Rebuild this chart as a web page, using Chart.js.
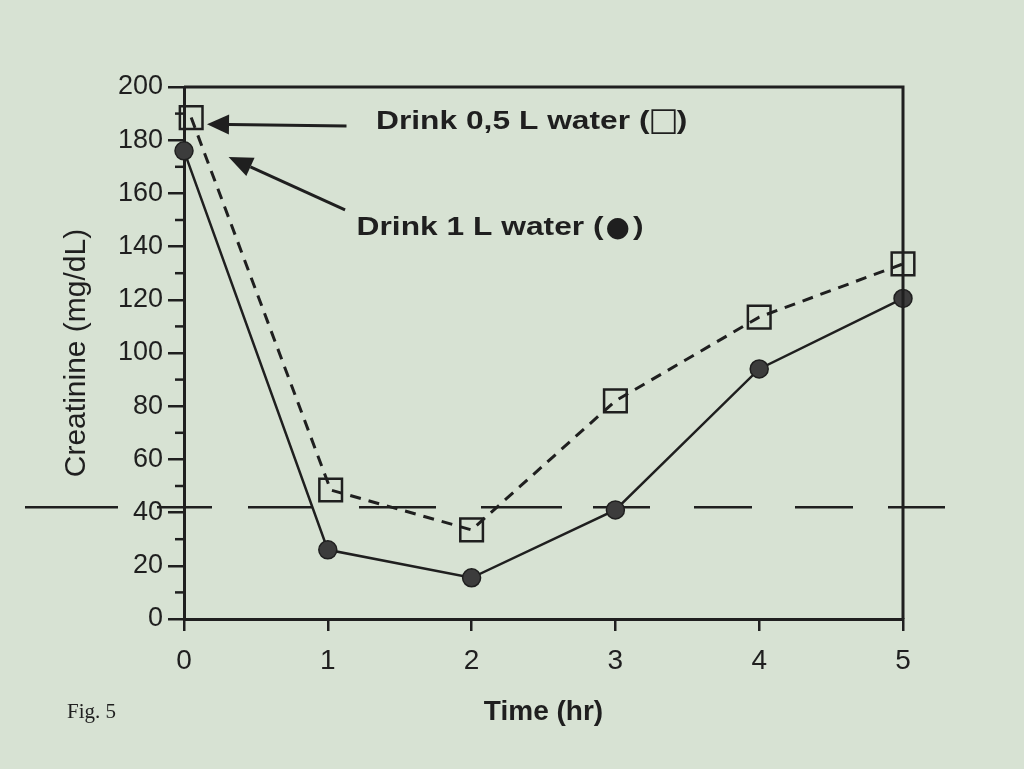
<!DOCTYPE html>
<html>
<head>
<meta charset="utf-8">
<script src="https://cdn.jsdelivr.net/npm/chart.js@4.4.0/dist/chart.umd.min.js"></script>
<style>
  html, body { margin: 0; padding: 0; background: #d7e2d3; }
  #wrap { width: 1024px; height: 769px; position: relative; }
</style>
</head>
<body>
<div id="wrap"><canvas id="creatChart" width="1024" height="769"></canvas></div>
<script>
// values
const timeTicks = [0, 1, 2, 3, 4, 5];
const oneLiterTime = [0, 1, 2, 3, 4, 5];
const oneLiterValues = [176, 26, 15.5, 41, 94, 120.5];
const halfLiterTime = [0.05, 1.02, 2, 3, 4, 5];
const halfLiterValues = [188.5, 48.5, 33.5, 82, 113.5, 133.5];
const yMajorTicks = [0, 20, 40, 60, 80, 100, 120, 140, 160, 180, 200];
const yMinorTicks = [10, 30, 50, 70, 90, 110, 130, 150, 170, 190];
const refLevel = 42;

// annotation pieces: text, marker glyph, closing bracket
const labelHalf = ['Drink 0,5 L water (', '\u25A1', ')'];
const labelOne = ['Drink 1 L water (', '\u25CF', ')'];

const ink = '#1f1f1f';
const paper = '#d7e2d3';

function toPoints(xs, ys) {
    return xs.map((x, i) => ({ x: x, y: ys[i] }));
}

function drawArrow(ctx, x1, y1, x2, y2, headLen, headW) {
    const ang = Math.atan2(y2 - y1, x2 - x1);
    const bx = x2 - Math.cos(ang) * headLen;
    const by = y2 - Math.sin(ang) * headLen;
    ctx.beginPath();
    ctx.moveTo(x1, y1);
    ctx.lineTo(bx, by);
    ctx.stroke();
    ctx.beginPath();
    ctx.moveTo(x2, y2);
    ctx.lineTo(bx + Math.sin(ang) * headW / 2, by - Math.cos(ang) * headW / 2);
    ctx.lineTo(bx - Math.sin(ang) * headW / 2, by + Math.cos(ang) * headW / 2);
    ctx.closePath();
    ctx.fill();
}

// wide bold label; the marker glyph is set unstretched in a face that has it
function drawNote(ctx, parts, x, y, glyphSize, gapIn, gapOut) {
    const stretch = 1.27;
    const mainFont = 'bold 25px "Liberation Sans", Arial, sans-serif';
    const glyphFont = glyphSize + 'px "DejaVu Sans", sans-serif';
    ctx.font = mainFont;
    const w0 = ctx.measureText(parts[0]).width * stretch;
    ctx.save();
    ctx.translate(x, y);
    ctx.scale(stretch, 1);
    ctx.fillText(parts[0], 0, 0);
    ctx.restore();
    ctx.font = glyphFont;
    const gx = x + w0 + gapIn;
    ctx.fillText(parts[1], gx, y + 1);
    const gw = ctx.measureText(parts[1]).width;
    ctx.font = mainFont;
    ctx.save();
    ctx.translate(gx + gw + gapOut, y);
    ctx.scale(stretch, 1);
    ctx.fillText(parts[2], 0, 0);
    ctx.restore();
}

const figurePlugin = {
    id: 'figureExtras',
    beforeDraw(chart) {
        const ctx = chart.ctx;
        ctx.save();
        ctx.fillStyle = paper;
        ctx.fillRect(0, 0, chart.width, chart.height);
        ctx.restore();
    },
    beforeDatasetsDraw(chart) {
        // long dashed reference line, runs past the frame on both sides
        const ctx = chart.ctx;
        const y = chart.scales.y.getPixelForValue(refLevel);
        ctx.save();
        ctx.strokeStyle = ink;
        ctx.lineWidth = 2.5;
        ctx.setLineDash([93, 39, 55, 36, 64, 47, 77, 45, 81, 31, 57, 44, 58, 43, 58, 35, 57, 60]);
        ctx.beginPath();
        ctx.moveTo(25, y);
        ctx.lineTo(945, y);
        ctx.stroke();
        ctx.restore();
    },
    afterDraw(chart) {
        const ctx = chart.ctx;
        const xs = chart.scales.x;
        const ys = chart.scales.y;
        const area = chart.chartArea;
        ctx.save();
        ctx.strokeStyle = ink;
        ctx.fillStyle = ink;

        // top and right frame
        ctx.lineWidth = 3;
        ctx.beginPath();
        ctx.moveTo(area.left, area.top);
        ctx.lineTo(area.right, area.top);
        ctx.lineTo(area.right, area.bottom);
        ctx.stroke();

        // minor ticks on y
        ctx.lineWidth = 2.5;
        yMinorTicks.forEach(v => {
            const py = ys.getPixelForValue(v);
            ctx.beginPath();
            ctx.moveTo(area.left - 9, py);
            ctx.lineTo(area.left, py);
            ctx.stroke();
        });

        // arrows
        ctx.lineWidth = 3;
        drawArrow(ctx, xs.getPixelForValue(1.13), ys.getPixelForValue(185.3),
                  xs.getPixelForValue(0.16), ys.getPixelForValue(186), 22, 20);
        drawArrow(ctx, xs.getPixelForValue(1.12), ys.getPixelForValue(153.8),
                  xs.getPixelForValue(0.31), ys.getPixelForValue(173.7), 24, 20);

        // annotation text
        ctx.textBaseline = 'alphabetic';
        ctx.textAlign = 'left';
        drawNote(ctx, labelHalf, xs.getPixelForValue(1.335), ys.getPixelForValue(184.2), 32, -1, -2);
        drawNote(ctx, labelOne, xs.getPixelForValue(1.2), ys.getPixelForValue(144.4), 28, 2, 3);

        // figure number
        ctx.font = '21px "Liberation Serif", "Times New Roman", serif';
        ctx.fillText('Fig. 5', 67, 718);
        ctx.restore();
    }
};

const ctxCreat = document.getElementById('creatChart');
new Chart(ctxCreat, {
    type: 'line',
    data: {
        datasets: [{
            label: 'Drink 1 L water',
            data: toPoints(oneLiterTime, oneLiterValues),
            borderColor: ink,
            borderWidth: 2.5,
            pointStyle: 'circle',
            pointRadius: 9,
            pointBackgroundColor: '#3c3c3c',
            pointBorderColor: ink,
            pointBorderWidth: 1.5,
            tension: 0,
            clip: false
        }, {
            label: 'Drink 0,5 L water',
            data: toPoints(halfLiterTime, halfLiterValues),
            borderColor: ink,
            borderWidth: 3,
            borderDash: [11, 8],
            pointStyle: 'rect',
            pointRadius: 16,
            pointBackgroundColor: 'rgba(0,0,0,0)',
            pointBorderColor: ink,
            pointBorderWidth: 2.5,
            tension: 0,
            clip: false
        }]
    },
    options: {
        responsive: false,
        animation: false,
        layout: { padding: { top: 87, right: 121, left: 0, bottom: 0 } },
        plugins: {
            legend: { display: false },
            tooltip: { enabled: false }
        },
        scales: {
            x: {
                type: 'linear',
                min: 0,
                max: 5,
                afterFit: (scale) => { scale.height = 150; },
                afterBuildTicks: (scale) => { scale.ticks = timeTicks.map(v => ({ value: v })); },
                ticks: {
                    color: ink,
                    font: { family: '"Liberation Sans", Arial, sans-serif', size: 28 },
                    padding: 13
                },
                grid: { drawOnChartArea: false, color: ink, lineWidth: 2.5, tickLength: 12 },
                border: { color: ink, width: 3 },
                title: {
                    display: true,
                    text: 'Time (hr)',
                    color: ink,
                    font: { family: '"Liberation Sans", Arial, sans-serif', size: 28, weight: 'bold' },
                    padding: { top: 0, bottom: 40 }
                }
            },
            y: {
                min: 0,
                max: 200,
                afterFit: (scale) => { scale.width = 184; },
                afterBuildTicks: (scale) => { scale.ticks = yMajorTicks.map(v => ({ value: v })); },
                ticks: {
                    color: ink,
                    font: { family: '"Liberation Sans", Arial, sans-serif', size: 27 },
                    padding: 5
                },
                grid: { drawOnChartArea: false, color: ink, lineWidth: 2.5, tickLength: 16 },
                border: { color: ink, width: 3 },
                title: {
                    display: true,
                    text: 'Creatinine (mg/dL)',
                    color: ink,
                    font: { family: '"Liberation Sans", Arial, sans-serif', size: 30 },
                    padding: { top: 59, bottom: 0 }
                }
            }
        }
    },
    plugins: [figurePlugin]
});
</script>
</body>
</html>
